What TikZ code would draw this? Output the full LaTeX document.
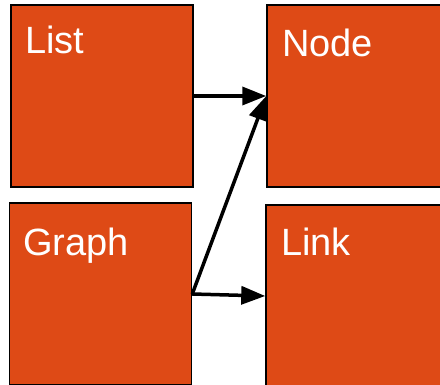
\documentclass[tikz,border=0pt]{standalone}
\usepackage{fontspec}
\setmainfont{Liberation Sans}
\usetikzlibrary{arrows.meta}
\definecolor{boxorange}{RGB}{222,74,22}
\begin{document}
\begin{tikzpicture}[x=1pt,y=-1pt,
  box/.style={draw=black,line width=1.5pt,fill=boxorange,minimum width=182pt,minimum height=182pt,inner sep=0pt},
  lbl/.style={text=white,anchor=base west,inner sep=0pt,font=\fontsize{38}{40}\selectfont},
  conn/.style={line width=3.5pt,-{Triangle[length=24pt,width=18pt]}}]
\useasboundingbox (0,0) rectangle (440,385);
\node[box] (list) at (102,96) {};
\node[box] (graph) at (100.5,294) {};
\node[box] (nodeb) at (358,96) {};
\node[box] (link) at (357,296) {};
\node[lbl] (tlist) at (25,54) {List};
\node[lbl] (tgraph) at (23,256) {Graph};
\node[lbl] (tnode) at (282,57) {Node};
\node[lbl] (tlink) at (281,256) {Link};
\draw[conn] (list.east) -- (nodeb.west);
\draw[conn] (graph.east) -- (nodeb.west);
\draw[conn] (graph.east) -- (link.west);
\end{tikzpicture}
\end{document}
